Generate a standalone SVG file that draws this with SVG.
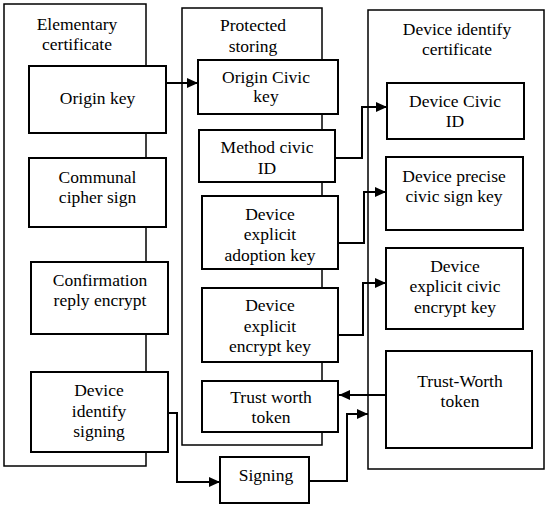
<svg xmlns="http://www.w3.org/2000/svg" width="547" height="506" viewBox="0 0 547 506">
<defs>
<marker id="ah" markerUnits="userSpaceOnUse" markerWidth="12" markerHeight="10" refX="11" refY="5" orient="auto">
<path d="M0,0 L11,5 L0,10 Z" fill="#000"/>
</marker>
<style>
.c{fill:#fff;stroke:#000;stroke-width:1.5}
.b{fill:#fff;stroke:#000;stroke-width:2}
text{font-family:'Liberation Serif',serif;font-size:17.5px;fill:#000;text-anchor:middle}
.k{fill:none;stroke:#000;stroke-width:2;marker-end:url(#ah)}
</style>
</defs>
<rect width="547" height="506" fill="#fff"/>
<g font-family="'Liberation Serif', serif">
<g id="elementary">
<rect class="c" x="4" y="4" width="142" height="462"/>
<text x="77" y="30">Elementary</text>
<text x="77" y="50">certificate</text>
</g>
<g id="protected">
<rect class="c" x="182" y="8" width="140" height="437"/>
<text x="253" y="31">Protected</text>
<text x="253" y="52">storing</text>
</g>
<g id="deviceidcert">
<rect class="c" x="368" y="10" width="176" height="459"/>
<text x="457" y="35">Device identify</text>
<text x="457" y="55">certificate</text>
</g>
<g id="originkey">
<rect class="b" x="29" y="66" width="137" height="67"/>
<text x="97.5" y="104">Origin key</text>
</g>
<g id="communal">
<rect class="b" x="29" y="158" width="137" height="69"/>
<text x="97.5" y="183">Communal</text>
<text x="97.5" y="203">cipher sign</text>
</g>
<g id="confirmation">
<rect class="b" x="31" y="262" width="137" height="72"/>
<text x="100" y="286">Confirmation</text>
<text x="100" y="306">reply encrypt</text>
</g>
<g id="devsigning">
<rect class="b" x="31" y="372" width="137" height="80"/>
<text x="99" y="396">Device</text>
<text x="99" y="417">identify</text>
<text x="99" y="437">signing</text>
</g>
<g id="origincivic">
<rect class="b" x="198" y="60" width="140" height="54"/>
<text x="266" y="83">Origin Civic</text>
<text x="266" y="102">key</text>
</g>
<g id="methodcivic">
<rect class="b" x="199" y="130" width="136" height="52"/>
<text x="267" y="153">Method civic</text>
<text x="267" y="174">ID</text>
</g>
<g id="adoption">
<rect class="b" x="202" y="196" width="136" height="73"/>
<text x="270" y="220">Device</text>
<text x="270" y="240">explicit</text>
<text x="270" y="261">adoption key</text>
</g>
<g id="encryptkey">
<rect class="b" x="202" y="288" width="136" height="74"/>
<text x="270" y="311">Device</text>
<text x="270" y="332">explicit</text>
<text x="270" y="352">encrypt key</text>
</g>
<g id="trustworth">
<rect class="b" x="202" y="381" width="136" height="51"/>
<text x="271" y="403">Trust worth</text>
<text x="271" y="423">token</text>
</g>
<g id="signing">
<rect class="b" x="220" y="457" width="89" height="46"/>
<text x="266" y="481">Signing</text>
</g>
<g id="devcivicid">
<rect class="b" x="387" y="83" width="137" height="56"/>
<text x="455" y="107">Device Civic</text>
<text x="455" y="127">ID</text>
</g>
<g id="precise">
<rect class="b" x="386" y="157" width="137" height="73"/>
<text x="454" y="182">Device precise</text>
<text x="454" y="202">civic sign key</text>
</g>
<g id="civicencrypt">
<rect class="b" x="386" y="248" width="137" height="81"/>
<text x="455" y="272">Device</text>
<text x="455" y="292">explicit civic</text>
<text x="455" y="313">encrypt key</text>
</g>
<g id="trustWorth">
<rect class="b" x="386" y="351" width="146" height="97"/>
<text x="460" y="387">Trust-Worth</text>
<text x="460" y="407">token</text>
</g>
</g>
<g id="connectors">
<path class="k" d="M166,83 H198"/>
<path class="k" d="M335,158 H362 V107 H387"/>
<path class="k" d="M338,243 H364 V192 H386"/>
<path class="k" d="M338,335 H363 V283 H386"/>
<path class="k" d="M386,395 H339"/>
<path class="k" d="M168,413 H177 V482 H220"/>
<path class="k" d="M309,481 H347 V414 H368"/>
</g>
</svg>
